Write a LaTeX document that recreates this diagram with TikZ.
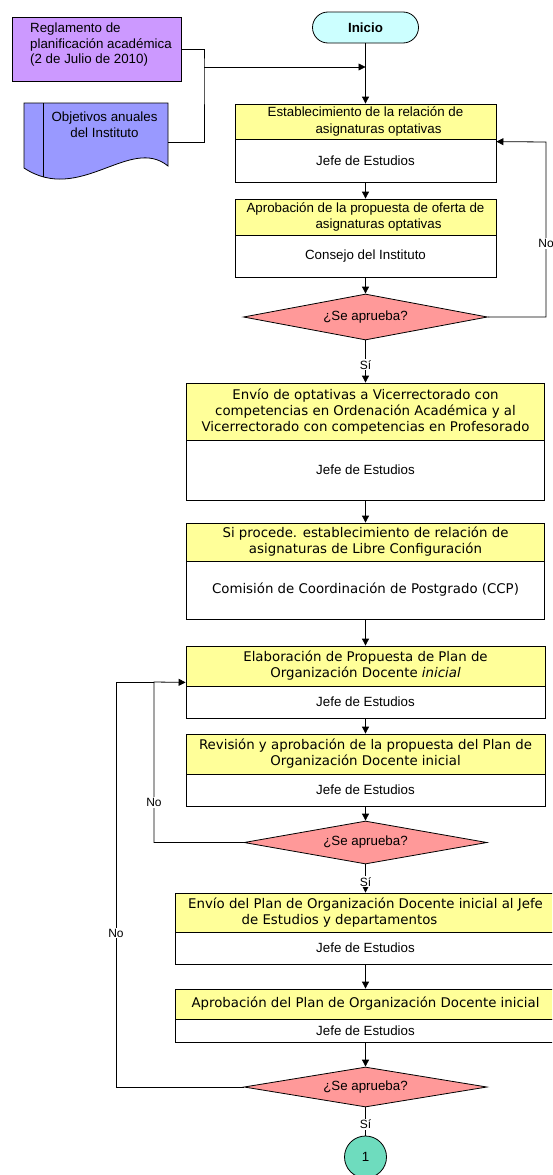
\documentclass[tikz,border=0pt]{standalone}
\usepackage{fontspec}
\setmainfont{Liberation Sans}
\newfontfamily\verd{DejaVu Sans}
\usetikzlibrary{arrows.meta,shapes.geometric}
\definecolor{ylw}{HTML}{FFFF99}
\definecolor{prp}{HTML}{CC99FF}
\definecolor{blu}{HTML}{9999FF}
\definecolor{pnk}{HTML}{FF9999}
\definecolor{cyn}{HTML}{CCFFFF}
\definecolor{tea}{RGB}{110,220,190}
\newcommand\arialf{\fontsize{13.33}{15.5}\selectfont}
\newcommand\arialg{\fontsize{13.33}{16.5}\selectfont}
\newcommand\verdf{\verd\fontsize{13.33}{16}\selectfont}
\tikzset{
  ln/.style={line width=0.8pt, draw=black},
  arr/.style={ln, -{Triangle[length=7pt,width=7pt]}},
  ttl/.style={ln, fill=ylw, inner sep=0pt, align=center, font=\verdf},
  role/.style={ln, fill=white, inner sep=0pt, align=center, font=\arialf},
  dec/.style={ln, fill=pnk, diamond, aspect=5, inner sep=0pt, font=\arialf},
  lbl/.style={fill=white, inner sep=1pt, font=\fontsize{12}{14}\selectfont},
  txt/.style={inner sep=0pt, font=\arialf},
}
\begin{document}
\begin{tikzpicture}[x=1pt,y=-1pt]
\useasboundingbox (0,0) rectangle (552,1175);
\clip (0,0) rectangle (552,1175);
% inputs
\node[ln, fill=prp, minimum width=169pt, minimum height=64pt, inner sep=0pt] (reg) at (96.5,49) {};
\node[txt, anchor=north west, align=left] (regt) at (30,23) {Reglamento de\\planificación académica\\(2 de Julio de 2010)};
\filldraw[ln, fill=blu] (24,103) -- (168,103) -- (168,166) .. controls (130,135) and (80,205) .. (24,168) -- cycle;
\draw[ln] (43,103) -- (43,176.8);
\node[txt, align=center] (obj) at (104.5,124.5) {Objetivos anuales\\del Instituto};
\coordinate (objR) at (168,142);
\coordinate (j1) at (204,67);
% start
\node[ln, fill=cyn, rounded corners=15.5pt, minimum width=106pt, minimum height=31pt, inner sep=0pt, font=\arialf] (ini) at (365.5,27.5) {\textbf{Inicio}};
% boxes
\node[ttl, font=\arialg, minimum width=261pt, minimum height=35pt] (t1) at (365.5,121.5) {Establecimiento de la relación de\\\hspace*{26pt}asignaturas optativas};
\node[role, minimum width=261pt, minimum height=43pt] (r1) at (365.5,160.5) {Jefe de Estudios};
\node[ttl, font=\arialf, minimum width=261pt, minimum height=36pt] (t2) at (365.5,217) {Aprobación de la propuesta de oferta de\\\hspace*{26pt}asignaturas optativas};
\node[role, minimum width=261pt, minimum height=42pt] (r2) at (365.5,256) {Consejo del Instituto};
\node[dec, minimum width=244pt, minimum height=46pt] (d1) at (365.5,317) {¿Se aprueba?};
\node[ttl, minimum width=358pt, minimum height=57pt] (t3) at (365.5,411.5) {Envío de optativas a Vicerrectorado con\\competencias en Ordenación Académica y al\\Vicerrectorado con competencias en Profesorado};
\node[role, minimum width=358pt, minimum height=60pt] (r3) at (365.5,470) {Jefe de Estudios};
\node[ttl, minimum width=358pt, minimum height=38pt] (t4) at (365.5,542) {Si procede. establecimiento de relación de\\asignaturas de Libre Configuración};
\node[role, font=\verdf, minimum width=358pt, minimum height=58pt] (r4) at (365.5,590) {Comisión de Coordinación de Postgrado (CCP)};
\node[ttl, minimum width=359pt, minimum height=40pt] (t5) at (365.5,666) {Elaboración de Propuesta de Plan de\\Organización Docente \textit{inicial}};
\node[role, minimum width=359pt, minimum height=32pt] (r5) at (365.5,702) {Jefe de Estudios};
\node[ttl, minimum width=359pt, minimum height=40pt] (t6) at (365.5,754) {Revisión y aprobación de la propuesta del Plan de\\Organización Docente inicial};
\node[role, minimum width=359pt, minimum height=32pt] (r6) at (365.5,790) {Jefe de Estudios};
\node[dec, minimum width=243pt, minimum height=43pt] (d2) at (365.5,842.5) {¿Se aprueba?};
\node[ttl, minimum width=380pt, minimum height=39pt] (t7) at (365.5,912.5) {Envío del Plan de Organización Docente inicial al Jefe\\de Estudios y departamentos\hspace*{52pt}};
\node[role, minimum width=380pt, minimum height=32pt] (r7) at (365.5,948) {Jefe de Estudios};
\node[ttl, minimum width=380pt, minimum height=30pt] (t8) at (365.5,1004) {Aprobación del Plan de Organización Docente inicial};
\node[role, minimum width=380pt, minimum height=23pt] (r8) at (365.5,1030.5) {Jefe de Estudios};
\node[dec, minimum width=243pt, minimum height=40pt] (d3) at (365.5,1087) {¿Se aprueba?};
\node[ln, circle, fill=tea, minimum size=42pt, inner sep=0pt, font=\arialf] (c1) at (365.5,1157) {1};
% connectors
\draw[ln] (reg.east) -| (j1) |- (objR);
\draw[arr] (j1) -- (ini.south |- j1);
\draw[arr] (ini.south) -- (t1.north);
\draw[arr] (r1.south) -- (t2.north);
\draw[arr] (r2.south) -- (d1.north);
\draw[arr] (d1.south) -- node[lbl,pos=0.58]{Sí} (t3.north);
\draw[arr] (r3.south) -- (t4.north);
\draw[arr] (r4.south) -- (t5.north);
\draw[arr] (r5.south) -- (t6.north);
\draw[arr] (r6.south) -- (d2.north);
\draw[arr] (d2.south) -- node[lbl,pos=0.62]{Sí} (t7.north);
\draw[arr] (r7.south) -- (t8.north);
\draw[arr] (r8.south) -- (d3.north);
\draw[ln] (d3.south) -- node[lbl,pos=0.59]{Sí} (c1.north);
\coordinate (k1) at (546,317);
\coordinate (k2) at (546,142);
\draw[arr] (d1.east) -- (k1) -- node[lbl,pos=0.42]{No} (k2) -- ([yshift=-3pt]r1.north east);
\coordinate (k3) at (154,842.5);
\coordinate (k4) at (154,682);
\draw[arr] (d2.west) -- (k3) -- node[lbl,pos=0.25]{No} (k4) -- ([yshift=4pt]t5.south west);
\coordinate (k5) at (116,1087);
\coordinate (k6) at (116,682);
\draw[ln] (d3.west) -- (k5) -- node[lbl,pos=0.38]{No} (k6) -- (k4);
\end{tikzpicture}
\end{document}
